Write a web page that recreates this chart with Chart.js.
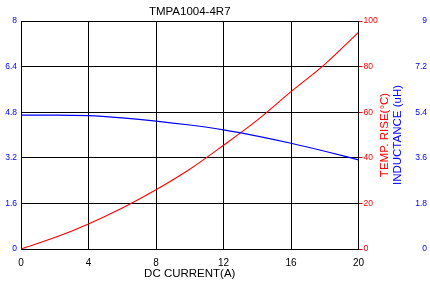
<!DOCTYPE html>
<html><head><meta charset="utf-8">
<script src="https://cdn.jsdelivr.net/npm/chart.js@4/dist/chart.umd.min.js"></script>
<style>html,body{margin:0;padding:0;background:#fff;overflow:hidden}canvas{display:block}</style>
</head><body>
<canvas id="c" width="430" height="294"></canvas>
<script>
const chartTitle = 'TMPA1004-4R7';
const xTitle = 'DC CURRENT(A)';
const tempTitle = 'TEMP. RISE(°C)';
const indTitle = 'INDUCTANCE (uH)';

const current    = [0, 2, 4, 6, 8, 10, 12, 14, 16, 18, 20];
const inductance = [4.70, 4.70, 4.68, 4.60, 4.49, 4.35, 4.18, 3.96, 3.71, 3.43, 3.13];
const tempRise   = [0, 5, 11, 18, 26, 35, 45.5, 56.5, 69, 81, 95];

const xTicks = [0, 4, 8, 12, 16, 20];
const xLabels = ['0', '4', '8', '12', '16', '20'];
const indTicks = [0, 1.6, 3.2, 4.8, 6.4, 8];
const indLabels = ['0', '1.6', '3.2', '4.8', '6.4', '8'];
const tempTicks = [0, 20, 40, 60, 80, 100];
const tempLabels = ['0', '20', '40', '60', '80', '100'];
const nextTicks = [0, 1.8, 3.6, 5.4, 7.2, 9];
const nextLabels = ['0', '1.8', '3.6', '5.4', '7.2', '9'];

const FONT = '"Liberation Sans", Arial, sans-serif';
const RED = '#ff0000', BLUE = '#0000ff';

const setTicks = arr => scale => { scale.ticks = arr.map(v => ({ value: v })); };
const lab = arr => (v, i) => arr[i];

const sideTitles = {
  id: 'sideTitles',
  afterDraw(chart) {
    const { ctx, scales: { y1 }, chartArea } = chart;
    const cy = (chartArea.top + chartArea.bottom) / 2;
    ctx.save();
    ctx.font = '11.5px ' + FONT;
    ctx.textAlign = 'center';
    ctx.textBaseline = 'middle';
    [[tempTitle, RED, y1.left + 26], [indTitle, BLUE, y1.left + 39.5]].forEach(([t, c, x]) => {
      ctx.save();
      ctx.translate(x, cy);
      ctx.rotate(-Math.PI / 2);
      ctx.fillStyle = c;
      ctx.fillText(t, 0, 0);
      ctx.restore();
    });
    ctx.restore();
  }
};

new Chart(document.getElementById('c'), {
  type: 'line',
  data: {
    datasets: [
      {
        data: current.map((x, i) => ({ x, y: inductance[i] })),
        borderColor: BLUE, borderWidth: 1.2, pointRadius: 0,
        cubicInterpolationMode: 'monotone', yAxisID: 'y'
      },
      {
        data: current.map((x, i) => ({ x, y: tempRise[i] })),
        borderColor: RED, borderWidth: 1.1, pointRadius: 0,
        cubicInterpolationMode: 'monotone', yAxisID: 'y1'
      }
    ]
  },
  options: {
    responsive: false, animation: false, devicePixelRatio: 1,
    layout: { padding: { left: 0, top: 0, bottom: 0, right: 3 } },
    plugins: {
      legend: { display: false }, tooltip: { enabled: false },
      title: {
        display: true, text: chartTitle, color: '#000', fullSize: false,
        font: { family: FONT, size: 11.5, weight: 'normal' },
        padding: { top: 5, bottom: 2.2 }
      }
    },
    scales: {
      x: {
        type: 'linear', min: 0, max: 20,
        afterBuildTicks: setTicks(xTicks),
        afterFit: s => { s.height = 45; },
        grid: { color: '#000', drawTicks: false },
        border: { color: '#000' },
        ticks: { color: '#000', padding: 8, font: { family: FONT, size: 10 }, callback: lab(xLabels), maxRotation: 0, autoSkip: false },
        title: { display: true, text: xTitle, color: '#000', font: { family: FONT, size: 11.5 }, padding: { top: 0, bottom: 13 } }
      },
      y: {
        position: 'left', min: 0, max: 8,
        afterBuildTicks: setTicks(indTicks),
        afterFit: s => { s.width = 21; },
        grid: { color: '#000', drawTicks: false },
        border: { color: '#000' },
        ticks: { color: BLUE, padding: 4, font: { family: FONT, size: 8.5 }, callback: lab(indLabels), autoSkip: false }
      },
      y1: {
        position: 'right', min: 0, max: 100, weight: 1,
        afterBuildTicks: setTicks(tempTicks),
        afterFit: s => { s.width = 52.5; },
        grid: { color: RED, drawOnChartArea: false, drawTicks: true, tickLength: 4 },
        border: { color: '#000' },
        ticks: { color: RED, padding: 1, font: { family: FONT, size: 8.5 }, callback: lab(tempLabels), autoSkip: false }
      },
      y3: {
        position: 'right', min: 0, max: 9, weight: 2,
        afterBuildTicks: setTicks(nextTicks),
        afterFit: s => { s.width = 16; },
        grid: { display: false, drawTicks: false },
        border: { display: false },
        ticks: { color: BLUE, padding: 0, crossAlign: 'far', font: { family: FONT, size: 8.5 }, callback: lab(nextLabels), autoSkip: false }
      }
    }
  },
  plugins: [sideTitles]
});
</script>
</body></html>
